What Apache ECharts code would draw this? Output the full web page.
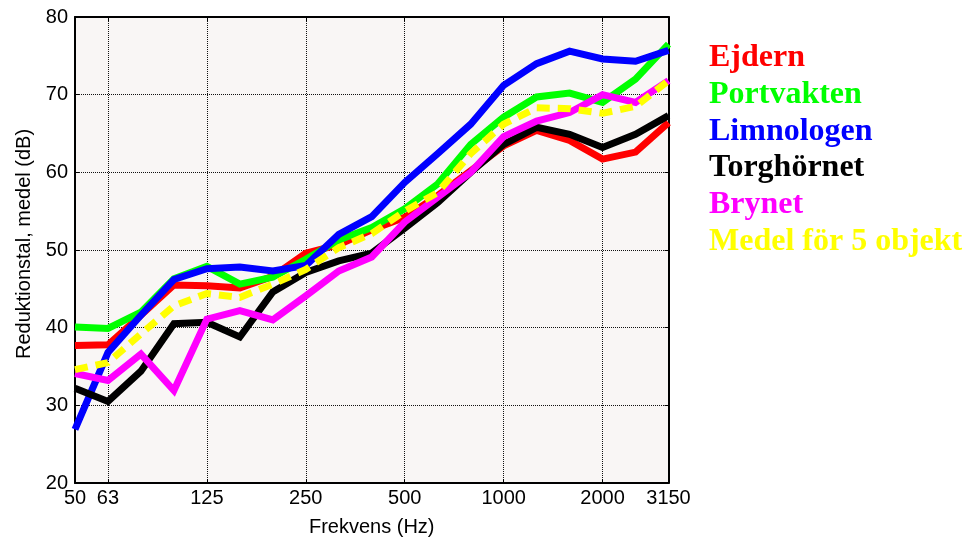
<!DOCTYPE html>
<html>
<head>
<meta charset="utf-8">
<script src="https://cdn.jsdelivr.net/npm/echarts@6/dist/echarts.min.js"></script>
<style>
  html, body { margin: 0; padding: 0; background: #ffffff; }
  #chart { width: 975px; height: 542px; }
</style>
</head>
<body>
<div id="chart"></div>
<script>
// Third-octave band centre frequencies (Hz)
const frequencies = ['50', '63', '80', '100', '125', '160', '200', '250', '315', '400',
  '500', '630', '800', '1000', '1250', '1600', '2000', '2500', '3150'];

// Bands that carry a tick label on the frequency axis
const labelledBands = ['50', '63', '125', '250', '500', '1000', '2000', '3150'];

// Reduction index per band (dB)
const ejdern =     [37.7, 37.8, 41.6, 45.5, 45.4, 45.1, 46.6, 49.6, 50.7, 52.6, 54.2, 57.0, 60.2, 63.4, 65.4, 64.1, 61.7, 62.6, 66.4];
const portvakten = [40.1, 39.9, 42.0, 46.3, 47.9, 45.6, 46.5, 48.8, 51.3, 52.9, 55.3, 58.5, 63.6, 67.1, 69.7, 70.2, 69.0, 72.0, 76.5];
const limnologen = [26.9, 36.8, 41.6, 46.2, 47.6, 47.8, 47.3, 48.0, 52.0, 54.3, 58.7, 62.4, 66.2, 71.2, 74.0, 75.6, 74.6, 74.3, 75.7];
const torghornet = [32.2, 30.5, 34.4, 40.5, 40.7, 38.8, 44.6, 47.1, 48.6, 49.6, 52.8, 56.1, 60.0, 63.6, 65.8, 64.9, 63.2, 64.9, 67.3];
const brynet =     [34.1, 33.2, 36.6, 31.9, 41.1, 42.2, 41.0, 44.1, 47.3, 49.1, 53.6, 56.8, 60.0, 64.6, 66.6, 67.7, 70.0, 69.0, 71.8];
const medel =      [34.6, 35.5, 39.2, 42.8, 44.4, 43.9, 45.6, 47.5, 50.3, 52.1, 55.0, 57.4, 62.4, 66.2, 68.3, 68.2, 67.6, 68.5, 71.8];

const seriesNames = ['Ejdern', 'Portvakten', 'Limnologen', 'Torghörnet', 'Brynet', 'Medel för 5 objekt'];
const seriesColors = ['#ff0000', '#00ff00', '#0000ff', '#000000', '#ff00ff', '#ffff00'];
const seriesValues = [ejdern, portvakten, limnologen, torghornet, brynet, medel];

const yTicks = { min: 20, max: 80, step: 10 };

const chart = echarts.init(document.getElementById('chart'), null, { renderer: 'canvas' });

const isLabelled = (idx, val) => labelledBands.indexOf(val) >= 0;
const isInnerLabelled = (idx, val) => isLabelled(idx, val) && idx > 0 && idx < frequencies.length - 1;

const frameLine = { show: true, onZero: false, lineStyle: { color: '#000', width: 2 } };
const gridLine = { lineStyle: { color: '#111', width: 1, type: [1, 1] } };
const axisFont = { fontFamily: 'Liberation Sans, Arial, sans-serif', fontSize: 20, color: '#000' };

chart.setOption({
  animation: false,
  backgroundColor: '#ffffff',
  grid: {
    left: 75, right: 306.5, top: 17, bottom: 58.5,
    show: true, backgroundColor: '#f9f6f5', borderWidth: 0
  },
  legend: {
    orient: 'vertical',
    left: 704, top: 42,
    padding: 0,
    icon: 'none',
    itemWidth: 0, itemHeight: 0,
    itemGap: 4.7,
    selectedMode: false,
    textStyle: { fontFamily: 'Liberation Serif, Times New Roman, serif', fontWeight: 'bold', fontSize: 32 },
    data: seriesNames.map((n, i) => ({ name: n, textStyle: { color: seriesColors[i] } }))
  },
  xAxis: [
    {
      type: 'category', data: frequencies, boundaryGap: false, position: 'bottom',
      name: 'Frekvens (Hz)', nameLocation: 'middle', nameGap: 34,
      nameTextStyle: axisFont,
      axisLine: frameLine,
      axisTick: { show: true, inside: true, length: 4, interval: isInnerLabelled, lineStyle: { color: '#000', width: 1 } },
      axisLabel: { interval: isLabelled, margin: 5, ...axisFont },
      splitLine: { show: true, interval: isInnerLabelled, ...gridLine }
    },
    {
      type: 'category', data: frequencies, boundaryGap: false, position: 'top',
      axisLine: frameLine,
      axisTick: { show: true, inside: true, length: 4, interval: isInnerLabelled, lineStyle: { color: '#000', width: 1 } },
      axisLabel: { show: false },
      splitLine: { show: false }
    }
  ],
  yAxis: [
    {
      type: 'value', min: yTicks.min, max: yTicks.max, interval: yTicks.step, position: 'left',
      name: 'Reduktionstal, medel (dB)', nameLocation: 'middle', nameGap: 40,
      nameTextStyle: { ...axisFont, padding: [0, 0, 0, 12] },
      axisLine: frameLine,
      axisTick: { show: true, inside: true, length: 4, lineStyle: { color: '#000', width: 1 } },
      axisLabel: { margin: 7, ...axisFont },
      splitLine: { show: true, ...gridLine }
    },
    {
      type: 'value', min: yTicks.min, max: yTicks.max, interval: yTicks.step, position: 'right',
      axisLine: frameLine,
      axisTick: { show: true, inside: true, length: 4, lineStyle: { color: '#000', width: 1 } },
      axisLabel: { show: false },
      splitLine: { show: false }
    }
  ],
  series: seriesValues.map((vals, i) => ({
    name: seriesNames[i],
    type: 'line',
    xAxisIndex: 0, yAxisIndex: 0,
    data: vals,
    symbol: 'none',
    color: seriesColors[i],
    lineStyle: {
      color: seriesColors[i], width: 7,
      type: i === 5 ? [13, 8] : 'solid',
      cap: 'butt', join: 'miter'
    },
    emphasis: { disabled: true },
    z: 2 + i
  }))
});
</script>
</body>
</html>
